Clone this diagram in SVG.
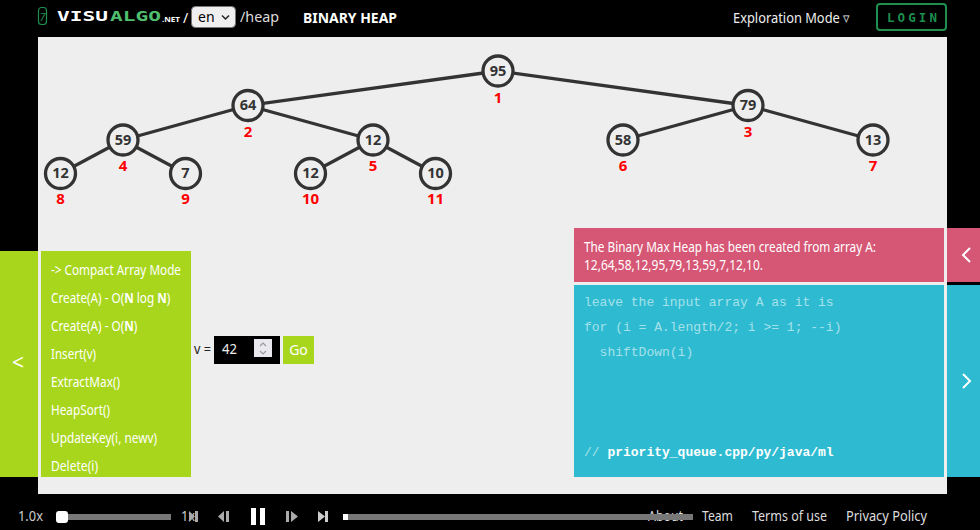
<svg xmlns="http://www.w3.org/2000/svg" width="980" height="530" viewBox="0 0 980 530">
<style>
text{font-family:"Noto Sans","Open Sans","Liberation Sans",sans-serif}
.edge{stroke:#333;stroke-width:3.3;fill:none}
.n circle{fill:#eee;stroke:#333;stroke-width:3.3}
.v{font-size:14.500px;font-weight:700;fill:#333;text-anchor:middle;font-family:"Open Sans","Noto Sans",sans-serif}
.i{font-size:15px;font-weight:700;fill:#f00;text-anchor:middle}
.m{font-size:14px;fill:#fff}
.m tspan{font-weight:700}
.c{font-family:"Liberation Mono",monospace;font-size:13px;fill:#fff;fill-opacity:.58;white-space:pre}
.f{font-size:14px;fill:#ddd}
.ctl{fill:#777}
.w{fill:none;stroke:#fff;stroke-width:2}
.logo{font-family:"DejaVu Sans Mono",monospace;font-weight:700}
</style>
<rect width="980" height="530" fill="#000"/>
<rect x="38" y="37" width="909" height="457" fill="#eee"/>

<g id="header">
<rect x="38.500" y="7.500" width="8" height="17" rx="3" fill="none" stroke="#1e8f4e" stroke-width="1.200"/>
<text x="42.500" y="21" font-size="11" fill="#1e8f4e" text-anchor="middle" font-style="italic">7</text>
<text class="logo" x="57" y="21" font-size="14.500" fill="#fff" textLength="51" lengthAdjust="spacingAndGlyphs">VISU</text>
<text class="logo" x="110" y="21" font-size="14.500" fill="#4fbf6f" textLength="51" lengthAdjust="spacingAndGlyphs">ALGO</text>
<text x="162" y="22" font-size="6.500" font-weight="700" fill="#fff" textLength="18" lengthAdjust="spacingAndGlyphs">.NET</text>
<text x="183" y="23" font-size="14" fill="#fff">/</text>
<rect x="191.500" y="6.500" width="44" height="21" rx="4" fill="#efefef" stroke="#767676"/>
<text x="198" y="22" font-size="14" fill="#000">en</text>
<path d="M222 15.500l3.500 3.500 3.500-3.500" fill="none" stroke="#222" stroke-width="1.500"/>
<text x="240" y="22" font-size="14" fill="#ddd" textLength="39" lengthAdjust="spacingAndGlyphs">/heap</text>
<text x="303" y="23" font-size="15" font-weight="700" fill="#fff" textLength="94" lengthAdjust="spacingAndGlyphs">BINARY HEAP</text>
<text x="733" y="23" font-size="15" fill="#eee" textLength="117" lengthAdjust="spacingAndGlyphs">Exploration Mode ▿</text>
<rect x="877" y="4" width="69" height="26" rx="3" fill="none" stroke="#1e8f4e" stroke-width="2"/>
<text class="logo" x="887" y="22" font-size="12.500" fill="#1e8f4e" textLength="50">LOGIN</text>
</g>

<g id="connectors">
<line class="edge" x1="498" y1="71" x2="248" y2="105.500"/>
<line class="edge" x1="498" y1="71" x2="748" y2="105.500"/>
<line class="edge" x1="248" y1="105.500" x2="123" y2="140"/>
<line class="edge" x1="248" y1="105.500" x2="373" y2="140"/>
<line class="edge" x1="748" y1="105.500" x2="623" y2="140"/>
<line class="edge" x1="748" y1="105.500" x2="873" y2="140"/>
<line class="edge" x1="123" y1="140" x2="60.500" y2="173.500"/>
<line class="edge" x1="123" y1="140" x2="185.500" y2="173.500"/>
<line class="edge" x1="373" y1="140" x2="310.500" y2="173.500"/>
<line class="edge" x1="373" y1="140" x2="435.500" y2="173.500"/>
</g>

<g id="n1" class="n"><circle cx="498" cy="71" r="15"/><text class="v" x="498" y="76">95</text><text class="i" x="498" y="103">1</text></g>
<g id="n2" class="n"><circle cx="248" cy="105.500" r="15"/><text class="v" x="248" y="110">64</text><text class="i" x="248" y="137">2</text></g>
<g id="n3" class="n"><circle cx="748" cy="105.500" r="15"/><text class="v" x="748" y="110">79</text><text class="i" x="748" y="137">3</text></g>
<g id="n4" class="n"><circle cx="123" cy="140" r="15"/><text class="v" x="123" y="144.500">59</text><text class="i" x="123" y="171">4</text></g>
<g id="n5" class="n"><circle cx="373" cy="140" r="15"/><text class="v" x="373" y="144.500">12</text><text class="i" x="373" y="171">5</text></g>
<g id="n6" class="n"><circle cx="623" cy="140" r="15"/><text class="v" x="623" y="144.500">58</text><text class="i" x="623" y="171">6</text></g>
<g id="n7" class="n"><circle cx="873" cy="140" r="15"/><text class="v" x="873" y="144.500">13</text><text class="i" x="873" y="171">7</text></g>
<g id="n8" class="n"><circle cx="60.500" cy="173.500" r="15"/><text class="v" x="60.500" y="178">12</text><text class="i" x="60.500" y="204">8</text></g>
<g id="n9" class="n"><circle cx="185.500" cy="173.500" r="15"/><text class="v" x="185.500" y="178">7</text><text class="i" x="185.500" y="204">9</text></g>
<g id="n10" class="n"><circle cx="310.500" cy="173.500" r="15"/><text class="v" x="310.500" y="178">12</text><text class="i" x="310.500" y="204">10</text></g>
<g id="n11" class="n"><circle cx="435.500" cy="173.500" r="15"/><text class="v" x="435.500" y="178">10</text><text class="i" x="435.500" y="204">11</text></g>

<g id="actions">
<rect x="0" y="251" width="38" height="226" fill="#a8d61c"/>
<text x="18" y="370" font-size="21" fill="#fff" text-anchor="middle">&lt;</text>
<rect x="41" y="251" width="150" height="226" fill="#a8d61c"/>
<text class="m" x="51" y="275" textLength="130" lengthAdjust="spacingAndGlyphs">-&gt; Compact Array Mode</text>
<text class="m" transform="translate(51 303) scale(.84 1)">Create(A) - O(<tspan>N</tspan> log <tspan>N</tspan>)</text>
<text class="m" transform="translate(51 331) scale(.84 1)">Create(A) - O(<tspan>N</tspan>)</text>
<text class="m" x="51" y="359" textLength="45" lengthAdjust="spacingAndGlyphs">Insert(v)</text>
<text class="m" x="51" y="387" textLength="69" lengthAdjust="spacingAndGlyphs">ExtractMax()</text>
<text class="m" x="51" y="415" textLength="59" lengthAdjust="spacingAndGlyphs">HeapSort()</text>
<text class="m" x="51" y="443" textLength="106" lengthAdjust="spacingAndGlyphs">UpdateKey(i, newv)</text>
<text class="m" x="51" y="471" textLength="47" lengthAdjust="spacingAndGlyphs">Delete(i)</text>
</g>

<g id="input">
<text x="194" y="354" font-size="14" fill="#222" textLength="17" lengthAdjust="spacingAndGlyphs">v =</text>
<rect x="214" y="336" width="66" height="28" fill="#000"/>
<text x="222" y="354" font-size="14" fill="#eee" textLength="15" lengthAdjust="spacingAndGlyphs">42</text>
<rect x="254" y="339" width="18" height="18" fill="#e8e8ee"/>
<path d="M260 346l3-3 3 3M260 351l3 3 3-3" fill="none" stroke="#999" stroke-width="1.200"/>
<rect x="283" y="336" width="31" height="28" fill="#a8d61c"/>
<text x="298.500" y="355" font-size="14" fill="#fff" text-anchor="middle">Go</text>
</g>

<g id="status">
<rect x="574" y="228" width="370" height="54" fill="#d65775"/>
<text x="584" y="252" font-size="14" fill="#fff" textLength="292" lengthAdjust="spacingAndGlyphs">The Binary Max Heap has been created from array A:</text>
<text x="584" y="270" font-size="14" fill="#fff" textLength="179" lengthAdjust="spacingAndGlyphs">12,64,58,12,95,79,13,59,7,12,10.</text>
<rect x="947" y="228" width="33" height="54" fill="#d65775"/>
<path d="M970 248l-7 7 7 7" class="w"/>
</g>

<g id="code">
<rect x="574" y="285" width="370" height="192" fill="#2ebbd1"/>
<text class="c" x="584" y="306">leave the input array A as it is</text>
<text class="c" x="584" y="331">for (i = A.length/2; i &gt;= 1; --i)</text>
<text class="c" x="584" y="356">  shiftDown(i)</text>
<text class="c" x="584" y="456">// <tspan font-weight="700" fill="#fff" fill-opacity="1">priority_queue.cpp/py/java/ml</tspan></text>
<rect x="947" y="285" width="33" height="192" fill="#2ebbd1"/>
<path d="M963 374l7 7-7 7" class="w"/>
</g>

<g id="footer">
<text x="18" y="521" font-size="14" fill="#ccc" textLength="25" lengthAdjust="spacingAndGlyphs">1.0x</text>
<rect x="60" y="514" width="111" height="6" class="ctl"/>
<rect x="56" y="511" width="12" height="12" rx="3" fill="#fff"/>
<text x="181" y="521" font-size="14" fill="#ccc" textLength="14" lengthAdjust="spacingAndGlyphs">1x</text>
<path d="M198 511v11h-3v-11zM195 516.500l-6-5.500v11z" fill="#aaa"/>
<path d="M224 511l-6 5.500 6 5.500zM226 511h3v11h-3z" fill="#aaa"/>
<rect x="251" y="508" width="5" height="17" fill="#fff"/>
<rect x="260" y="508" width="5" height="17" fill="#fff"/>
<path d="M286 511h3v11h-3zM291 511l7 5.500-7 5.500z" fill="#aaa"/>
<path d="M318 511l7 5.500-7 5.500zM325 511h3v11h-3z" fill="#ccc"/>
<text class="f" x="648" y="521" textLength="35" lengthAdjust="spacingAndGlyphs">About</text>
<rect x="343" y="514" width="350" height="6" class="ctl"/>
<rect x="343" y="514" width="5" height="6" fill="#fff"/>
<text class="f" x="702" y="521" textLength="31" lengthAdjust="spacingAndGlyphs">Team</text>
<text class="f" x="752" y="521" textLength="75" lengthAdjust="spacingAndGlyphs">Terms of use</text>
<text class="f" x="846" y="521" textLength="81" lengthAdjust="spacingAndGlyphs">Privacy Policy</text>
</g>
</svg>
